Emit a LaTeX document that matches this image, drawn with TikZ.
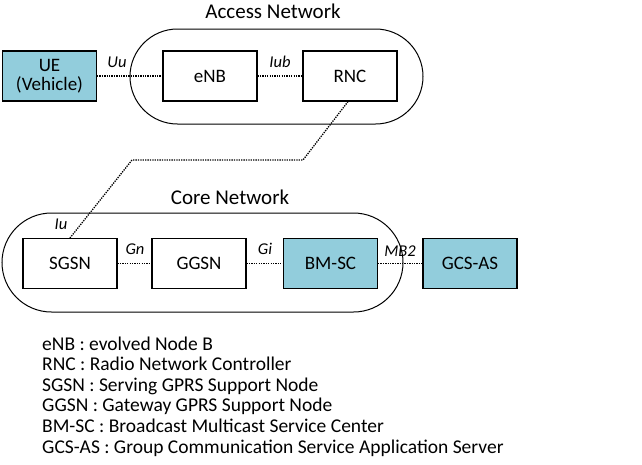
\documentclass[tikz,border=0pt]{standalone}
\usepackage{fontspec}
\setmainfont{Carlito}
\definecolor{boxblue}{RGB}{146,205,220}
\begin{document}
\begin{tikzpicture}[x=1pt,y=-1pt,
  box/.style={draw,line width=1.1pt,minimum width=94pt,minimum height=50pt,inner sep=0pt,font=\fontsize{19}{20}\selectfont,align=center},
  bluebox/.style={box,fill=boxblue},
  cloud/.style={draw,line width=1pt,inner sep=0pt},
  link/.style={line width=1.3pt,dash pattern=on 1.3pt off 1.1pt},
  lbl/.style={font=\fontsize{16.5}{17}\selectfont\itshape,inner sep=0pt},
  title/.style={font=\fontsize{21}{22}\selectfont,inner sep=0pt},
  legend/.style={font=\fontsize{19.5}{21}\selectfont,anchor=base west,inner sep=0pt}]
\useasboundingbox (0,0) rectangle (642,464);
% access network
\node[cloud,minimum width=293pt,minimum height=95pt,rounded corners=47.5pt] (access) at (276.5,76.5) {};
\node[title] (accesst) at (273,11) {Access Network};
\node[bluebox,font=\fontsize{19}{19}\selectfont] (ue) at (49.5,76) {UE\\(Vehicle)};
\node[box] (enb) at (210,76) {eNB};
\node[box] (rnc) at (350,76) {RNC};
% core network
\node[cloud,minimum width=401pt,minimum height=99pt,rounded corners=49.5pt] (core) at (202.5,262.5) {};
\node[title] (coret) at (230,197) {Core Network};
\node[box] (sgsn) at (70,263.5) {SGSN};
\node[box] (ggsn) at (199,263.5) {GGSN};
\node[bluebox] (bmsc) at (330.5,263.5) {BM-SC};
\node[bluebox] (gcs) at (470,263.5) {GCS-AS};
% links
\draw[link] (ue.east) -- (enb.west);
\draw[link] (enb.east) -- (rnc.west);
\coordinate (k1) at (303,160);
\coordinate (k2) at (132,160);
\draw[link] (rnc.south) ++(-2,0) coordinate (rs) -- (k1) -- (k2) -- (sgsn.north);
\draw[link] (sgsn.east) -- (ggsn.west);
\draw[link] (ggsn.east) -- (bmsc.west);
\draw[link] (bmsc.east) -- (gcs.west);
% interface labels
\node[lbl] (uu) at (117,62) {Uu};
\node[lbl] (iub) at (280,62) {Iub};
\node[lbl] (iu) at (61,224) {Iu};
\node[lbl] (gn) at (135,249) {Gn};
\node[lbl] (gi) at (265,249) {Gi};
\node[lbl] (mb2) at (400,251) {MB2};
% legend
\node[legend] (l1) at (42,350) {eNB : evolved Node B};
\node[legend] (l2) at (42,370.6) {RNC : Radio Network Controller};
\node[legend] (l3) at (42,391.2) {SGSN : Serving GPRS Support Node};
\node[legend] (l4) at (42,411.8) {GGSN : Gateway GPRS Support Node};
\node[legend] (l5) at (42,432.4) {BM-SC : Broadcast Multicast Service Center};
\node[legend] (l6) at (42,453) {GCS-AS : Group Communication Service Application Server};
\end{tikzpicture}
\end{document}
